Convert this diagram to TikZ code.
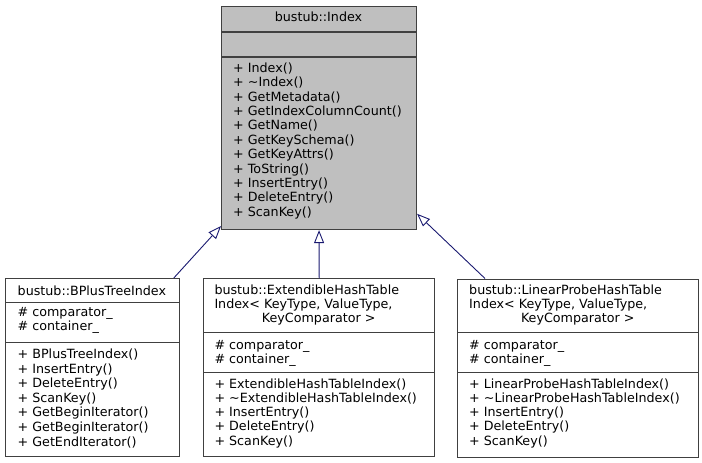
\documentclass[tikz,border=0pt]{standalone}
\usepackage{fontspec}
\setmainfont{DejaVu Sans}
\usetikzlibrary{arrows.meta}
\definecolor{edgeblue}{HTML}{191970}
\definecolor{boxgray}{HTML}{BFBFBF}
\definecolor{boxline}{HTML}{404040}
\begin{document}
\begin{tikzpicture}[x=1pt,y=-1pt,
  box/.style={draw=boxline, line width=1.1pt, inner sep=0pt, anchor=north west},
  sep/.style={draw=boxline, line width=1.1pt},
  txt/.style={anchor=base west, inner sep=0pt, font=\fontsize{12.7}{14.4}\selectfont},
  ctxt/.style={anchor=base, inner sep=0pt, font=\fontsize{12.7}{14.4}\selectfont},
  inh/.style={draw=edgeblue, line width=0.9pt, -{Triangle[length=13pt,width=10pt,fill=white]}}]
\useasboundingbox (0,0) rectangle (702,463);
% base class
\node[box, fill=boxgray, minimum width=195pt, minimum height=223pt] (idx) at (221,6) {};
\draw[sep] (221,32) -- (416,32);
\draw[sep] (221,57) -- (416,57);
\node[ctxt] (idxt) at (318.5,21) {bustub::Index};
\foreach \t [count=\i] in {+ Index(), + \textasciitilde Index(), + GetMetadata(), + GetIndexColumnCount(), + GetName(), + GetKeySchema(), + GetKeyAttrs(), + ToString(), + InsertEntry(), + DeleteEntry(), + ScanKey()}
  \node[txt] (idxm\i) at (233,72.3+14.4*\i-14.4) {\t};
% BPlusTreeIndex
\node[box, fill=white, minimum width=174pt, minimum height=178pt] (bp) at (5,278) {};
\draw[sep] (5,302.7) -- (179,302.7);
\draw[sep] (5,342.7) -- (179,342.7);
\node[txt] (bpt) at (17.5,295) {bustub::BPlusTreeIndex};
\node[txt] (bpa1) at (17.5,316) {\# comparator\_};
\node[txt] (bpa2) at (17.5,330.5) {\# container\_};
\foreach \t [count=\i] in {+ BPlusTreeIndex(), + InsertEntry(), + DeleteEntry(), + ScanKey(), + GetBeginIterator(), + GetBeginIterator(), + GetEndIterator()}
  \node[txt] (bpm\i) at (17.5,358.5+14.6*\i-14.6) {\t};
% ExtendibleHashTableIndex
\node[box, fill=white, minimum width=230.7pt, minimum height=177.7pt] (eh) at (203.3,278.3) {};
\draw[sep] (203.3,332.7) -- (434,332.7);
\draw[sep] (203.3,372.7) -- (434,372.7);
\node[txt] (eht1) at (214.3,294) {bustub::ExtendibleHashTable};
\node[txt] (eht2) at (214.3,308.5) {Index< KeyType, ValueType,};
\node[ctxt] (eht3) at (318.7,322.7) {KeyComparator >};
\node[txt] (eha1) at (214.3,349.3) {\# comparator\_};
\node[txt] (eha2) at (214.3,363) {\# container\_};
\foreach \t [count=\i] in {+ ExtendibleHashTableIndex(), + \textasciitilde ExtendibleHashTableIndex(), + InsertEntry(), + DeleteEntry(), + ScanKey()}
  \node[txt] (ehm\i) at (214.3,388.3+14.2*\i-14.2) {\t};
% LinearProbeHashTableIndex
\node[box, fill=white, minimum width=241pt, minimum height=178pt] (lp) at (457.3,278.5) {};
\draw[sep] (457.3,332.7) -- (698.3,332.7);
\draw[sep] (457.3,372.7) -- (698.3,372.7);
\node[txt] (lpt1) at (469,294) {bustub::LinearProbeHashTable};
\node[txt] (lpt2) at (469,308.5) {Index< KeyType, ValueType,};
\node[ctxt] (lpt3) at (577.8,322.7) {KeyComparator >};
\node[txt] (lpa1) at (469,349.3) {\# comparator\_};
\node[txt] (lpa2) at (469,363) {\# container\_};
\foreach \t [count=\i] in {+ LinearProbeHashTableIndex(), + \textasciitilde LinearProbeHashTableIndex(), + InsertEntry(), + DeleteEntry(), + ScanKey()}
  \node[txt] (lpm\i) at (469,388.3+14.2*\i-14.2) {\t};
% inheritance edges
\draw[inh] ([xshift=-6.3pt]bp.north east) -- ([yshift=4pt]idx.south west);
\draw[inh] (eh.north) -- (idx.south);
\draw[inh] ([xshift=27.7pt]lp.north west) -- ([yshift=16.3pt]idx.south east);
\end{tikzpicture}
\end{document}
